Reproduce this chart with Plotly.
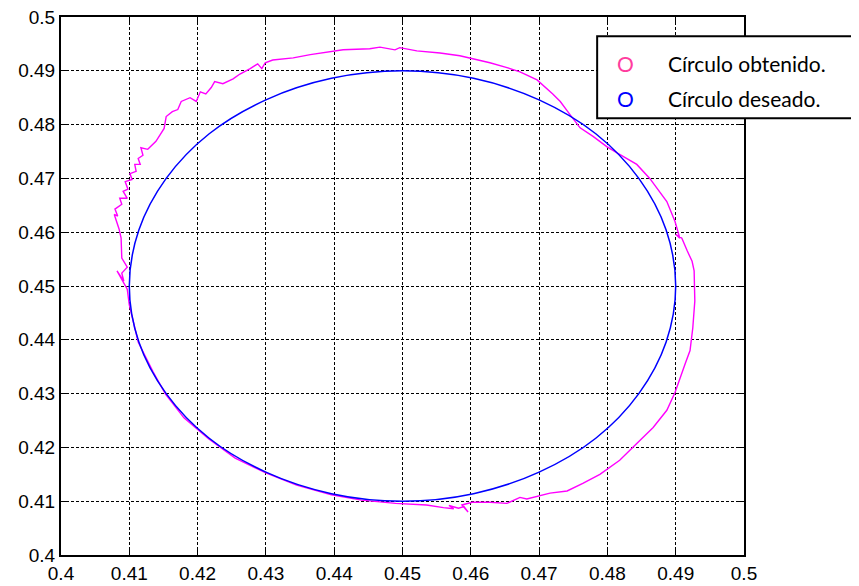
import plotly.graph_objects as go

# desired circle (blue), read every 15 degrees off the picture
x_deseado = [0.49, 0.4886, 0.4846, 0.4783, 0.47, 0.4604, 0.45, 0.4396, 0.43,
             0.4217, 0.4154, 0.4114, 0.41, 0.4114, 0.4154, 0.4217, 0.43,
             0.4396, 0.45, 0.4604, 0.47, 0.4783, 0.4846, 0.4886, 0.49]
y_deseado = [0.45, 0.4604, 0.47, 0.4783, 0.4846, 0.4886, 0.49, 0.4886, 0.4846,
             0.4783, 0.47, 0.4604, 0.45, 0.4396, 0.43, 0.4217, 0.4154,
             0.4114, 0.41, 0.4114, 0.4154, 0.4217, 0.43, 0.4396, 0.45]

# obtained circle (magenta)
x_obtenido = [0.4596, 0.4587, 0.4602, 0.4628, 0.4653, 0.4672, 0.4682, 0.4716,
              0.4741, 0.4764, 0.4789, 0.4818, 0.4837, 0.4867, 0.4887, 0.4899,
              0.4914, 0.4921, 0.4925, 0.4928, 0.4927, 0.4924, 0.4917, 0.4909,
              0.4900, 0.4906, 0.4899, 0.4887, 0.4862, 0.4843, 0.4816, 0.4799,
              0.4779, 0.4760, 0.4745, 0.4731, 0.4720, 0.4697, 0.4672, 0.4653,
              0.4628, 0.4603, 0.4584, 0.4555, 0.4521, 0.4496, 0.4489, 0.4467,
              0.4452, 0.4413, 0.4379, 0.4365, 0.4340, 0.4310, 0.4299, 0.4294,
              0.4288, 0.4277, 0.4262, 0.4252, 0.4237, 0.4225, 0.4220, 0.4212,
              0.4204, 0.4198, 0.4189, 0.4176, 0.4171, 0.4163, 0.4154, 0.4151,
              0.4139, 0.4127, 0.4117, 0.4120, 0.4113, 0.4116, 0.4108, 0.4110,
              0.4101, 0.4104, 0.4094, 0.4098, 0.4091, 0.4097, 0.4086, 0.4089,
              0.4079, 0.4083, 0.4078, 0.4082, 0.4085, 0.4088, 0.4089, 0.4097,
              0.4089, 0.4092, 0.4082, 0.4097, 0.4100, 0.4113, 0.4135, 0.4153,
              0.4180, 0.4216, 0.4255, 0.4299, 0.4345, 0.4396, 0.4440, 0.4490,
              0.4535, 0.4560, 0.4575, 0.4568, 0.4582, 0.4590, 0.4596]
y_obtenido = [0.4080, 0.4093, 0.4098, 0.4098, 0.4096, 0.4107, 0.4104, 0.4115,
              0.4119, 0.4133, 0.4150, 0.4176, 0.4200, 0.4237, 0.4269, 0.4302,
              0.4356, 0.4380, 0.4422, 0.4472, 0.4528, 0.4546, 0.4565, 0.4589,
              0.4596, 0.4589, 0.4620, 0.4657, 0.4700, 0.4726, 0.4746, 0.4759,
              0.4778, 0.4794, 0.4819, 0.4843, 0.4857, 0.4883, 0.4898, 0.4906,
              0.4915, 0.4922, 0.4928, 0.4933, 0.4937, 0.4943, 0.4939, 0.4944,
              0.4941, 0.4939, 0.4933, 0.4930, 0.4924, 0.4920, 0.4915, 0.4904,
              0.4913, 0.4904, 0.4894, 0.4885, 0.4876, 0.4880, 0.4869, 0.4857,
              0.4861, 0.4843, 0.4850, 0.4843, 0.4828, 0.4824, 0.4815, 0.4793,
              0.4769, 0.4754, 0.4757, 0.4743, 0.4737, 0.4726, 0.4726, 0.4713,
              0.4709, 0.4698, 0.4694, 0.4680, 0.4676, 0.4663, 0.4663, 0.4652,
              0.4643, 0.4630, 0.4633, 0.4617, 0.4606, 0.4589, 0.4552, 0.4535,
              0.4524, 0.4509, 0.4528, 0.4494, 0.4465, 0.4396, 0.4340, 0.4299,
              0.4255, 0.4216, 0.4180, 0.4153, 0.4130, 0.4112, 0.4102, 0.4096,
              0.4093, 0.4088, 0.4086, 0.4092, 0.4087, 0.4090, 0.4080]

tick_vals = [0.4, 0.41, 0.42, 0.43, 0.44, 0.45, 0.46, 0.47, 0.48, 0.49, 0.5]
tick_text = ['0.4', '0.41', '0.42', '0.43', '0.44', '0.45', '0.46', '0.47',
             '0.48', '0.49', '0.5']

fig = go.Figure()
fig.add_trace(go.Scatter(x=x_obtenido, y=y_obtenido, mode='lines',
                         line=dict(color='#ff00ff', width=1.4),
                         showlegend=False))
fig.add_trace(go.Scatter(x=x_deseado, y=y_deseado, mode='lines',
                         line=dict(color='#0000ff', width=1.5, shape='spline'),
                         showlegend=False))

axis = dict(range=[0.4, 0.5], tickvals=tick_vals, ticktext=tick_text,
            showgrid=True, gridcolor='black', gridwidth=1, griddash='3px,2px',
            showline=True, linecolor='black', linewidth=2, mirror='ticks',
            ticks='inside', ticklen=5, tickcolor='black', zeroline=False,
            automargin=False, ticklabeloverflow='allow',
            tickfont=dict(family='Liberation Sans', size=19, color='black'))
fig.update_xaxes(**axis)
fig.update_yaxes(**axis)

# legend box drawn by hand (it sticks out past the right border)
fig.add_shape(type='rect', xref='paper', yref='paper',
              x0=0.785, x1=1.25, y0=0.812, y1=0.964,
              line=dict(color='black', width=2), fillcolor='white',
              layer='above')
leg = [('O', '#ff3d9e', 'Círculo obtenido.', 0.913),
       ('O', '#0000ff', 'Círculo deseado.', 0.848)]
for sym, col, txt, yy in leg:
    fig.add_annotation(x=0.826, y=yy, xref='paper', yref='paper', text=sym,
                       showarrow=False, xanchor='center', yanchor='middle',
                       font=dict(family='Lato', size=21, color=col))
    fig.add_annotation(x=0.886, y=yy, xref='paper', yref='paper', text=txt,
                       showarrow=False, xanchor='left', yanchor='middle',
                       font=dict(family='Lato', size=21, color='black'))

# page body adds an 8px offset, margins are shifted to compensate
fig.update_layout(width=859, height=586, plot_bgcolor='white',
                  paper_bgcolor='white',
                  margin=dict(l=53, r=123, t=9, b=39))
fig.write_html("out.html")
